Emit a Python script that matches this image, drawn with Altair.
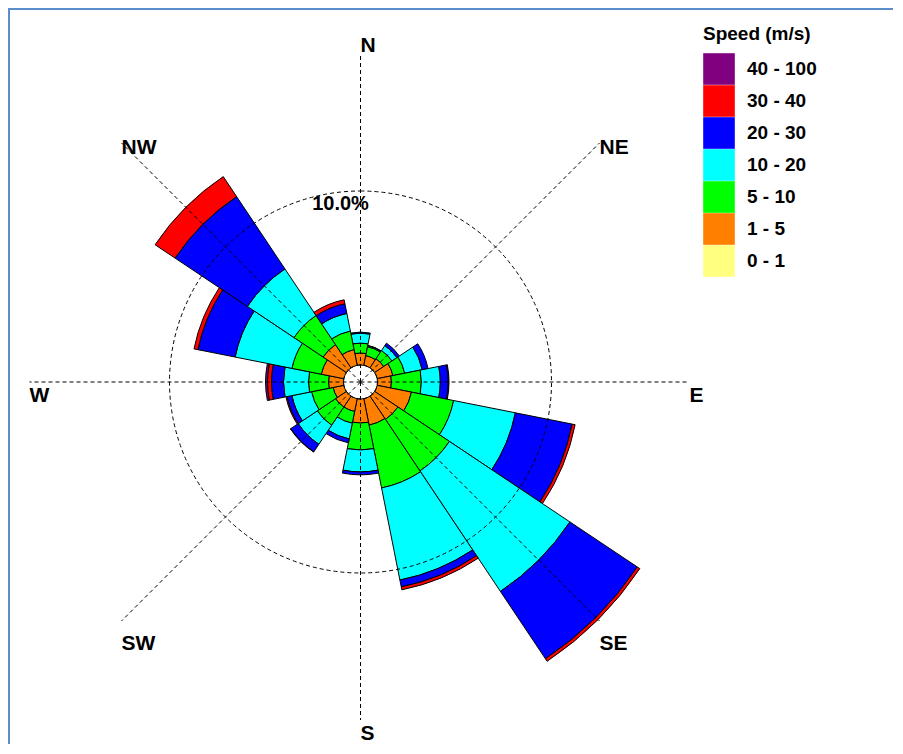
import math
import altair as alt
import pandas as pd

# ---------------- data ----------------
directions = ["N", "NNE", "NE", "ENE", "E", "ESE", "SE", "SSE",
              "S", "SSW", "SW", "WSW", "W", "WNW", "NW", "NNW"]
speed_bins = ["0 - 1", "1 - 5", "5 - 10", "10 - 20", "20 - 30", "30 - 40", "40 - 100"]
speed_colors = ["#ffff80", "#ff8000", "#00ff00", "#00ffff", "#0000ff", "#ff0000", "#800080"]

# frequency (%) per direction, one list per speed class
freq_0_1 = [0, 0, 0, 0, 0, 0, 0, 0, 0, 0, 0, 0, 0, 0, 0, 0]
freq_1_5 = [0.69, 0.57, 0.63, 0.92, 0.80, 2.01, 1.61, 1.55, 1.38, 0.75, 0.75, 0.63, 0.86, 1.32, 1.61, 0.92]
freq_5_10 = [0.57, 0.52, 0.57, 0.69, 1.72, 2.47, 3.56, 3.68, 1.55, 0.69, 1.26, 1.26, 1.15, 1.72, 2.01, 1.09]
freq_10_20 = [0.57, 0.06, 0.34, 1.03, 1.09, 3.62, 8.33, 5.40, 1.26, 0.92, 1.32, 1.15, 1.44, 3.33, 3.22, 1.03]
freq_20_30 = [0.06, 0.02, 0.17, 0.34, 0.46, 3.33, 4.66, 0.40, 0.17, 0.23, 0.52, 0.29, 0.69, 2.18, 5.00, 0.57]
freq_30_40 = [0, 0, 0, 0, 0.04, 0.17, 0.17, 0.17, 0, 0, 0.02, 0.06, 0.23, 0.23, 1.38, 0.23]
freq_40_100 = [0, 0, 0, 0, 0, 0, 0, 0, 0, 0, 0, 0, 0.11, 0, 0, 0]

compass_labels = ["N", "NE", "E", "SE", "S", "SW", "W", "NW"]
ring_value = 10
ring_label = "10.0%"
legend_title = "Speed (m/s)"

# ---------------- geometry / style ----------------
W, H = 885, 736
CX, CY = 352.5, 374          # rose centre inside the plot area
R0, K = 17, 17.4             # calm-circle radius (px) and px per percent
axis_len = [327, 338, 329, 338, 338, 338, 331, 338]
label_shift = [0, -6, 3, 12, 3, 12, 3, -6]   # px downward from the axis end
FONT = "Liberation Sans"

series = [freq_0_1, freq_1_5, freq_5_10, freq_10_20, freq_20_30, freq_30_40, freq_40_100]
rows = []
for i, d in enumerate(directions):
    ang = i * 360 / len(directions)
    half = 180 / len(directions)
    cum = 0.0
    for b, vals in zip(speed_bins, series):
        v = vals[i]
        if v > 0:
            rows.append(dict(direction=d, speed=b, t0=ang - half, t1=ang + half,
                             r0=cum, r1=cum + v, freq=v))
        cum += v
bars_df = pd.DataFrame(rows)

ax_rows = []
for j, lab in enumerate(compass_labels):
    a = math.radians(j * 45)
    L = axis_len[j]
    x1, y1 = L * math.sin(a), L * math.cos(a)
    ax_rows.append(dict(label=lab, x0=0.0, y0=0.0, x1=x1, y1=y1,
                        lx=x1, ly=y1 - label_shift[j]))
axes_df = pd.DataFrame(ax_rows)

ring_df = pd.DataFrame({"ring": [ring_value], "t0": [0], "t1": [360],
                        "lx": [-20], "ly": [R0 + K * ring_value - 3], "txt": [ring_label]})

theta_scale = alt.Scale(domain=[0, 360], range=[0, 2 * math.pi])
radius_scale = alt.Scale(type="linear", domain=[0, 10], range=[R0, R0 + 10 * K], zero=False, nice=False)
x_scale = alt.Scale(domain=[-CX, W - CX], nice=False, zero=False)
y_scale = alt.Scale(domain=[-(H - CY), CY], nice=False, zero=False)

legend_order = list(reversed(speed_bins))
color_order = list(reversed(speed_colors))

bars = alt.Chart(bars_df).mark_arc(stroke="black", strokeWidth=1).encode(
    x=alt.XDatum(0, scale=x_scale, axis=None),
    y=alt.YDatum(0, scale=y_scale, axis=None),
    theta=alt.Theta("t0:Q", scale=theta_scale),
    theta2=alt.Theta2("t1:Q"),
    radius=alt.Radius("r1:Q", scale=radius_scale),
    radius2=alt.Radius2("r0:Q"),
    color=alt.Color(
        "speed:N",
        scale=alt.Scale(domain=legend_order, range=color_order),
        legend=alt.Legend(
            title=legend_title, orient="none", legendX=695, legendY=17,
            symbolType="square", symbolSize=1000, symbolStrokeWidth=0, symbolOpacity=1,
            labelFont=FONT, labelFontSize=19, labelFontWeight="bold", labelColor="black",
            titleFont=FONT, titleFontSize=19, titleFontWeight="bold", titleColor="black",
            labelOffset=12, rowPadding=0, padding=0, titlePadding=9,
        ),
    ),
    tooltip=["direction:N", "speed:N", "freq:Q"],
)

axis_lines = alt.Chart(axes_df).mark_rule(color="black", strokeWidth=1, strokeDash=[4, 3]).encode(
    x=alt.X("x0:Q", scale=x_scale, axis=None),
    y=alt.Y("y0:Q", scale=y_scale, axis=None),
    x2="x1:Q",
    y2="y1:Q",
)

ring = alt.Chart(ring_df).mark_arc(fillOpacity=0, stroke="black", strokeWidth=1, strokeDash=[4, 3]).encode(
    x=alt.XDatum(0, scale=x_scale, axis=None),
    y=alt.YDatum(0, scale=y_scale, axis=None),
    theta=alt.Theta("t0:Q", scale=theta_scale),
    theta2=alt.Theta2("t1:Q"),
    radius=alt.Radius("ring:Q", scale=radius_scale),
)

ring_text = alt.Chart(ring_df).mark_text(
    font=FONT, fontSize=20, fontWeight="bold", color="black", align="center", baseline="top"
).encode(
    x=alt.X("lx:Q", scale=x_scale, axis=None),
    y=alt.Y("ly:Q", scale=y_scale, axis=None),
    text="txt:N",
)

lab_n = alt.Chart(axes_df).transform_filter(alt.datum.label == "N").mark_text(
    font=FONT, fontSize=21, fontWeight="bold", color="black", align="left",
    baseline="alphabetic", dy=-3
).encode(
    x=alt.X("lx:Q", scale=x_scale, axis=None),
    y=alt.Y("ly:Q", scale=y_scale, axis=None),
    text="label:N",
)

lab_other = alt.Chart(axes_df).transform_filter(alt.datum.label != "N").mark_text(
    font=FONT, fontSize=21, fontWeight="bold", color="black", align="left",
    baseline="top"
).encode(
    x=alt.X("lx:Q", scale=x_scale, axis=None),
    y=alt.Y("ly:Q", scale=y_scale, axis=None),
    text="label:N",
)

frame_df = pd.DataFrame({"k": [0]})
frame_left = alt.Chart(frame_df).mark_rule(color="#5b8ccc", strokeWidth=3).encode(
    x=alt.value(0.5), y=alt.value(-2), y2=alt.value(H + 10)
)
frame_top = alt.Chart(frame_df).mark_rule(color="#5b8ccc", strokeWidth=3).encode(
    y=alt.value(0.5), x=alt.value(-2), x2=alt.value(W + 10)
)

chart = alt.layer(
    bars, axis_lines, ring, ring_text, lab_n, lab_other, frame_left, frame_top
).properties(
    width=W, height=H, padding=0,
    autosize=alt.AutoSizeParams(type="none"),
    background="white",
).configure_view(strokeWidth=0)

chart.save("out.html", embed_options={"renderer": "svg", "actions": False})
